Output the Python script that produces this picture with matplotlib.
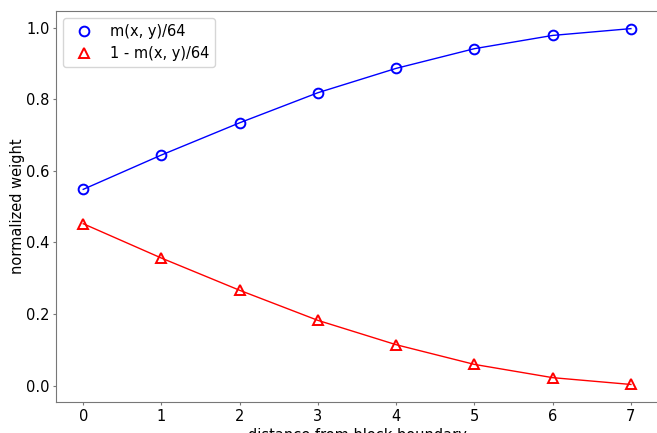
import numpy as np
from matplotlib import pyplot as plt


distance = [0, 1, 2, 3, 4, 5, 6, 7]
weight_m = [0.548, 0.644, 0.734, 0.818, 0.886, 0.941, 0.978, 0.997]
weight_inv = [0.452, 0.356, 0.266, 0.182, 0.114, 0.059, 0.022, 0.003]


fig = plt.figure(figsize=(6.57, 4.33), dpi=100)
ax = fig.add_axes([0.085, 0.071, 0.917, 0.904])

ax.plot(distance, weight_m, color='b', linewidth=1)
ax.plot(distance, weight_m, 'o', color='b', markerfacecolor='none',
        markersize=7, markeredgewidth=1.4, label='m(x, y)/64')
ax.plot(distance, weight_inv, color='r', linewidth=1)
ax.plot(distance, weight_inv, '^', color='r', markerfacecolor='none',
        markersize=7, markeredgewidth=1.4, label='1 - m(x, y)/64')

ax.set_xlabel('distance from block boundary', fontsize=10.5, labelpad=3)
ax.set_ylabel('normalized weight', fontsize=10.5, labelpad=1)
ax.tick_params(labelsize=10.5, color='#777777', length=2, pad=2.5)
for s in ax.spines.values():
    s.set_color('#777777')
ax.legend(loc='upper left', fontsize=10.5)

fig.savefig('out.png', dpi=100)
